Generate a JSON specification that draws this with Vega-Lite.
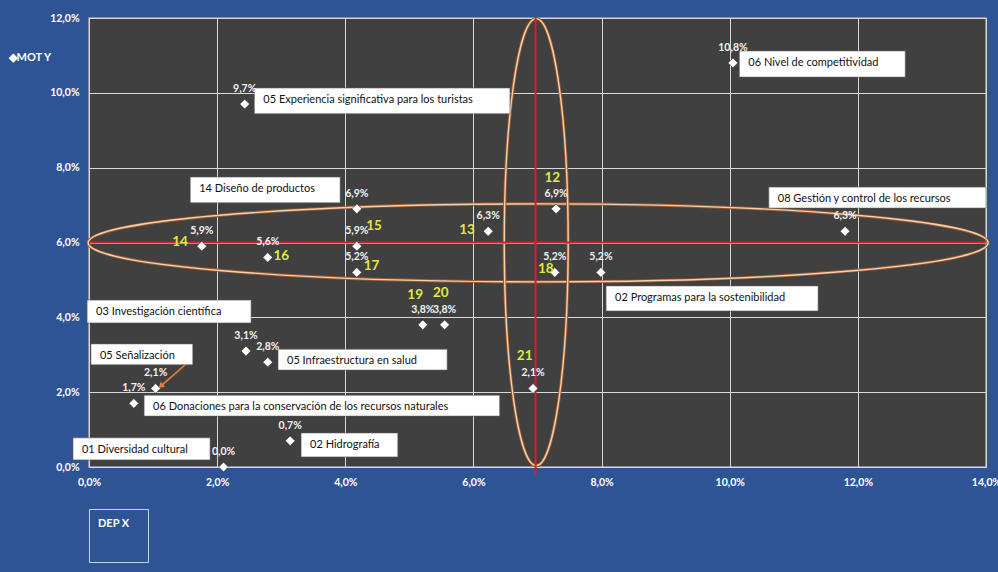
{
  "$schema": "https://vega.github.io/schema/vega-lite/v6.json",
  "width": 897,
  "height": 449,
  "autosize": "none",
  "padding": {"left": 89, "top": 18, "right": 12, "bottom": 105},
  "background": "#2F5496",
  "datasets": {
    "pts": [
      {"x": 0.0243, "y": 0.097},
      {"x": 0.1005, "y": 0.108},
      {"x": 0.0418, "y": 0.069},
      {"x": 0.0729, "y": 0.069},
      {"x": 0.118, "y": 0.063},
      {"x": 0.0176, "y": 0.059},
      {"x": 0.0279, "y": 0.056},
      {"x": 0.0418, "y": 0.059},
      {"x": 0.0418, "y": 0.052},
      {"x": 0.0623, "y": 0.063},
      {"x": 0.0727, "y": 0.052},
      {"x": 0.0799, "y": 0.052},
      {"x": 0.0521, "y": 0.038},
      {"x": 0.0555, "y": 0.038},
      {"x": 0.0693, "y": 0.021},
      {"x": 0.0245, "y": 0.031},
      {"x": 0.0279, "y": 0.028},
      {"x": 0.0104, "y": 0.021},
      {"x": 0.0070, "y": 0.017},
      {"x": 0.0314, "y": 0.007},
      {"x": 0.0210, "y": 0.000}
    ],
    "nums": [
      {"n": "14", "x": 0.0142, "y": 0.0601},
      {"n": "15", "x": 0.0445, "y": 0.0643},
      {"n": "16", "x": 0.0300, "y": 0.0564},
      {"n": "17", "x": 0.0441, "y": 0.0537},
      {"n": "13", "x": 0.0590, "y": 0.0633},
      {"n": "12", "x": 0.0723, "y": 0.0772},
      {"n": "18", "x": 0.0713, "y": 0.0529},
      {"n": "19", "x": 0.0509, "y": 0.0460},
      {"n": "20", "x": 0.0549, "y": 0.0465},
      {"n": "21", "x": 0.0680, "y": 0.0297}
    ],
    "boxes": [
      {"t": "05 Experiencia significativa para los turistas", "x1": 0.0258, "x2": 0.0657, "y1": 0.1013, "y2": 0.0944},
      {"t": "06 Nivel de competitividad", "x1": 0.1015, "x2": 0.1274, "y1": 0.1112, "y2": 0.1042},
      {"t": "14 Diseño de productos", "x1": 0.0158, "x2": 0.0392, "y1": 0.0775, "y2": 0.0706},
      {"t": "08 Gestión y control de los recursos", "x1": 0.1061, "x2": 0.1400, "y1": 0.0748, "y2": 0.0692},
      {"t": "02 Programas para la sostenibilidad", "x1": 0.0807, "x2": 0.1138, "y1": 0.0484, "y2": 0.0417},
      {"t": "03 Investigación científica", "x1": -0.0003, "x2": 0.0253, "y1": 0.0446, "y2": 0.0385},
      {"t": "05 Señalización", "x1": 0.0003, "x2": 0.0162, "y1": 0.0329, "y2": 0.0273},
      {"t": "05 Infraestructura en salud", "x1": 0.0295, "x2": 0.0559, "y1": 0.0315, "y2": 0.0259},
      {"t": "06 Donaciones para la conservación de los recursos naturales", "x1": 0.0086, "x2": 0.0641, "y1": 0.0192, "y2": 0.0136},
      {"t": "01 Diversidad cultural", "x1": -0.0025, "x2": 0.0189, "y1": 0.0078, "y2": 0.0019},
      {"t": "02 Hidrografía", "x1": 0.0331, "x2": 0.0482, "y1": 0.0091, "y2": 0.0027}
    ]
  },
  "encoding": {
    "x": {
      "field": "x", "type": "quantitative",
      "scale": {"domain": [0, 0.14], "nice": false, "zero": false},
      "axis": {
        "values": [0, 0.02, 0.04, 0.06, 0.08, 0.1, 0.12, 0.14],
        "format": ".1%",
        "title": null
      }
    },
    "y": {
      "field": "y", "type": "quantitative",
      "scale": {"domain": [0, 0.12], "nice": false, "zero": false},
      "axis": {
        "values": [0, 0.02, 0.04, 0.06, 0.08, 0.1, 0.12],
        "format": ".1%",
        "title": "◆MOT Y",
        "titleAngle": 0,
        "titleAlign": "left",
        "titleBaseline": "middle",
        "titleX": -81,
        "titleY": 39,
        "titleFontSize": 11
      }
    }
  },
  "layer": [
    {
      "data": {"values": [{"x": 0.0701, "y": 0.0599}]},
      "mark": {"type": "point", "shape": "M-1,0C-1,-0.0479,-0.5523,-0.0867,0,-0.0867C0.5523,-0.0867,1,-0.0479,1,0C1,0.0479,0.5523,0.0867,0,0.0867C-0.5523,0.0867,-1,0.0479,-1,0Z", "size": 810000, "filled": false, "stroke": "#94582F", "strokeWidth": 3.2, "opacity": 1}
    },
    {
      "data": {"values": [{"x": 0.0701, "y": 0.0599}]},
      "mark": {"type": "point", "shape": "M-1,0C-1,-0.0479,-0.5523,-0.0867,0,-0.0867C0.5523,-0.0867,1,-0.0479,1,0C1,0.0479,0.5523,0.0867,0,0.0867C-0.5523,0.0867,-1,0.0479,-1,0Z", "size": 810000, "filled": false, "stroke": "#F6CFAE", "strokeWidth": 1.4, "opacity": 1}
    },
    {
      "data": {"values": [{"x": 0.0698, "y": 0.0601}]},
      "mark": {"type": "point", "shape": "M-0.143,0C-0.143,-0.5523,-0.079,-1,0,-1C0.079,-1,0.143,-0.5523,0.143,0C0.143,0.5523,0.079,1,0,1C-0.079,1,-0.143,0.5523,-0.143,0Z", "size": 199809, "filled": false, "stroke": "#94582F", "strokeWidth": 3.2, "opacity": 1}
    },
    {
      "data": {"values": [{"x": 0.0698, "y": 0.0601}]},
      "mark": {"type": "point", "shape": "M-0.143,0C-0.143,-0.5523,-0.079,-1,0,-1C0.079,-1,0.143,-0.5523,0.143,0C0.143,0.5523,0.079,1,0,1C-0.079,1,-0.143,0.5523,-0.143,0Z", "size": 199809, "filled": false, "stroke": "#F6CFAE", "strokeWidth": 1.4, "opacity": 1}
    },
    {
      "data": {"values": [{"y": 0.06, "x1": 0, "x2": 0.14}]},
      "mark": {"type": "rule", "color": "#D2202B", "strokeWidth": 2},
      "encoding": {
        "x": {"field": "x1", "type": "quantitative"},
        "x2": {"field": "x2"},
        "y": {"field": "y", "type": "quantitative"}
      }
    },
    {
      "data": {"values": [{"x": 0.0697, "y1": 0.12, "y2": -0.0022}]},
      "mark": {"type": "rule", "color": "#D2202B", "strokeWidth": 2},
      "encoding": {
        "x": {"field": "x", "type": "quantitative"},
        "y": {"field": "y1", "type": "quantitative"},
        "y2": {"field": "y2"},
        "opacity": {
          "datum": "DEP X",
          "scale": {"range": [1]},
          "legend": {
            "title": "DEP X",
            "orient": "none",
            "legendX": 0,
            "legendY": 491,
            "strokeColor": "#BDD7EE",
            "padding": 9,
            "titleColor": "#FFFFFF",
            "titleFont": "Lato",
            "titleFontSize": 11,
            "titleFontWeight": "bold",
            "titlePadding": 3,
            "labelExpr": "''",
            "symbolOpacity": 0,
            "symbolStrokeWidth": 0,
            "symbolSize": 441,
            "symbolType": "square",
            "labelOffset": 20
          }
        }
      }
    },
    {
      "data": {"values": [{"x1": 0.015, "y1": 0.0273, "x2": 0.0112, "y2": 0.0216}]},
      "mark": {"type": "rule", "color": "#ED7D31", "strokeWidth": 1.5},
      "encoding": {
        "x": {"field": "x1", "type": "quantitative"},
        "y": {"field": "y1", "type": "quantitative"},
        "x2": {"field": "x2"},
        "y2": {"field": "y2"}
      }
    },
    {
      "data": {"values": [{"x": 0.0112, "y": 0.0216}]},
      "mark": {"type": "point", "shape": "triangle-up", "filled": true, "color": "#ED7D31", "size": 45, "angle": 229, "opacity": 1}
    },
    {
      "data": {"name": "boxes"},
      "mark": {"type": "rect", "fill": "#FFFFFF", "stroke": "#595959", "strokeWidth": 0.6},
      "encoding": {
        "x": {"field": "x1", "type": "quantitative"},
        "x2": {"field": "x2"},
        "y": {"field": "y1", "type": "quantitative"},
        "y2": {"field": "y2"}
      }
    },
    {
      "data": {"name": "boxes"},
      "mark": {"type": "text", "align": "left", "baseline": "middle", "dx": 9, "dy": 12, "font": "Lato", "fontSize": 11, "color": "#111111"},
      "encoding": {
        "x": {"field": "x1", "type": "quantitative"},
        "y": {"field": "y1", "type": "quantitative"},
        "text": {"field": "t"}
      }
    },
    {
      "data": {"name": "pts"},
      "mark": {"type": "point", "shape": "diamond", "filled": true, "color": "#FFFFFF", "size": 95, "opacity": 1, "stroke": "#222222", "strokeWidth": 0.5}
    },
    {
      "data": {"name": "pts"},
      "mark": {"type": "text", "align": "center", "baseline": "middle", "dy": -15, "font": "Lato", "fontSize": 10.5, "fontWeight": "bold", "color": "#F2F2F2"},
      "encoding": {
        "text": {"field": "y", "type": "quantitative", "format": ".1%"}
      }
    },
    {
      "data": {"name": "nums"},
      "mark": {"type": "text", "align": "center", "baseline": "middle", "font": "Lato", "fontSize": 13.5, "fontWeight": "bold", "color": "#E3E83E"},
      "encoding": {
        "text": {"field": "n"}
      }
    }
  ],
  "config": {
    "locale": {"number": {"decimal": ",", "thousands": ".", "grouping": [3], "currency": ["", " €"]}},
    "view": {"fill": "#404040", "stroke": "#A6A6A6", "strokeWidth": 1.5},
    "axis": {
      "grid": true,
      "gridColor": "#D9D9D9",
      "gridWidth": 1,
      "ticks": false,
      "domain": false,
      "labelColor": "#FFFFFF",
      "labelFont": "Lato",
      "labelFontSize": 10.5,
      "labelFontWeight": "bold",
      "labelPadding": 11,
      "titleColor": "#FFFFFF",
      "titleFont": "Lato",
      "titleFontSize": 10.5,
      "titleFontWeight": "bold"
    },
    "axisX": {"labelPadding": 10, "labelFlush": false},
    "axisY": {"labelPadding": 10}
  }
}
